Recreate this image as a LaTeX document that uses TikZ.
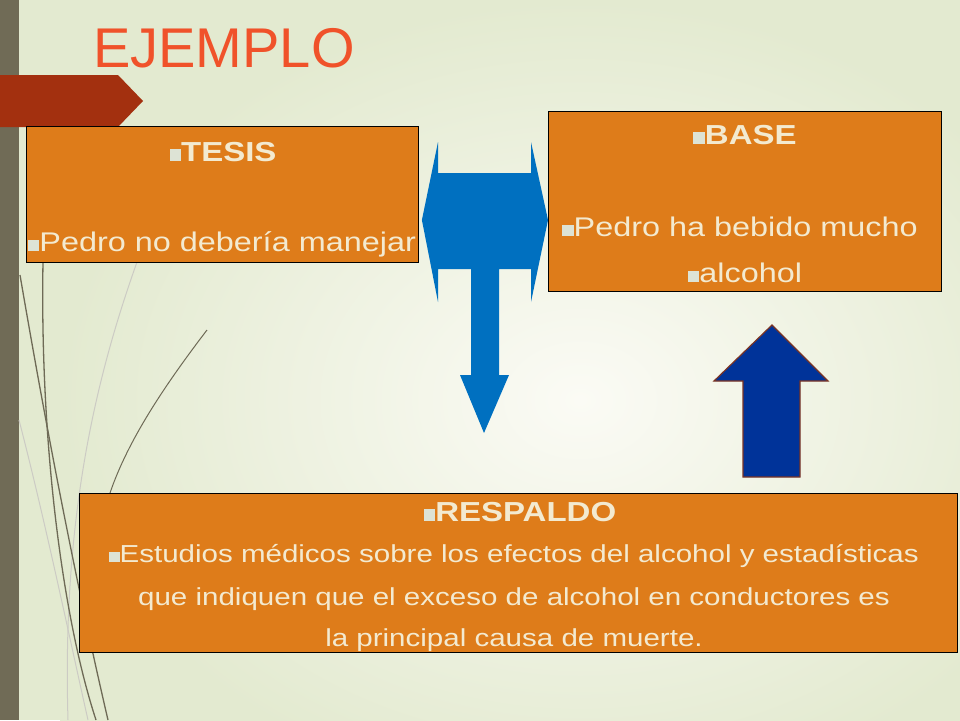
\documentclass[tikz,border=0pt]{standalone}
\usepackage{fontspec}
\setmainfont{Liberation Sans}
\newfontfamily\slidefont[FakeStretch=1.2]{Liberation Sans}
\usetikzlibrary{shapes,arrows,calc}

\definecolor{bgout}{HTML}{E3EAD0}
\definecolor{bgin}{HTML}{FBFBF5}
\definecolor{barcol}{HTML}{706B56}
\definecolor{tabred}{HTML}{A3300F}
\definecolor{titlecol}{HTML}{F0522A}
\definecolor{boxorange}{HTML}{DE7C1A}
\definecolor{cream}{HTML}{F3EAD0}
\definecolor{bulletcol}{HTML}{DDE3D5}
\definecolor{arrowblue}{HTML}{0070C0}
\definecolor{darkblue}{HTML}{003399}
\definecolor{arrowrim}{HTML}{7B3424}
\definecolor{swooshcol}{HTML}{6E6A56}

\newcommand{\sq}{\textcolor{bulletcol}{\rule{0.42em}{0.42em}}}

\begin{document}
\begin{tikzpicture}[x=1pt,y=-1pt,
    box/.style={draw=black,line width=0.9pt,fill=boxorange,anchor=north west,inner sep=0pt},
    head/.style={anchor=base,text=cream,inner sep=0pt,font=\slidefont\fontsize{27.5}{30}\selectfont\bfseries},
    body/.style={anchor=base,text=cream,inner sep=0pt,font=\slidefont\fontsize{27}{30}\selectfont},
    small/.style={anchor=base,text=cream,inner sep=0pt,font=\slidefont\fontsize{24.6}{28}\selectfont},
    swoosh/.style={draw=swooshcol,line width=1.3pt},
    faint/.style={draw=swooshcol!35,line width=1pt}]
      \useasboundingbox (0,0) rectangle (960,720);
      % slide background
      \fill[bgout] (0,0) rectangle (960,720);
      \shade[inner color=bgin,outer color=bgout] (60,0) rectangle (1100,800);
      \fill[barcol] (0,0) rectangle (19,720);
      \draw[faint] (137,262) .. controls (95,380) and (62,520) .. (68,720);
      \draw[faint] (19,420) .. controls (45,520) and (70,640) .. (88,720);
      \draw[swoosh] (20,275) .. controls (50,450) and (80,600) .. (108,720);
      \draw[swoosh] (43,262) .. controls (40,430) and (60,610) .. (96,720);
      \draw[swoosh,line width=1pt] (207,330) .. controls (165,385) and (128,440) .. (110,493);
      \fill[tabred] (0,75) -- (118,75) -- (143,101) -- (118,127) -- (0,127) -- cycle;
      \node[anchor=base west,inner sep=0pt,text=titlecol,font=\fontsize{56}{60}\selectfont] (title) at (93,67) {EJEMPLO};
      % the three boxes
      \node[box,minimum width=392pt,minimum height=136pt] (tesis) at (26,126) {};
      \node[box,minimum width=393pt,minimum height=180pt] (base) at (548,111) {};
      \node[box,minimum width=878pt,minimum height=159pt] (respaldo) at (79,493) {};
      \node[head] (tesish) at (223,161) {\sq TESIS};
      \node[body] (tesist) at (222,251) {\sq Pedro no debería manejar};
      \node[head] (baseh) at (745,144) {\sq BASE};
      \node[body] (baset) at (740,236) {\sq Pedro ha bebido mucho};
      \node[body] (basett) at (745,282) {\sq alcohol};
      \node[head] (respaldoh) at (520,521) {\sq RESPALDO};
      \node[small] (resp1) at (514,562) {\sq Estudios médicos sobre los efectos del alcohol y estadísticas};
      \node[small] (resp2) at (514,605) {que indiquen que el exceso de alcohol en conductores es};
      \node[small] (resp3) at (514,646) {la principal causa de muerte.};
      % block arrows
      \fill[arrowblue] (tesis.east |- 0,220) ++(3,0) -- (438,142) -- (438,173) -- (531,173) -- (531,142)
        -- (548,220) -- (531,302) -- (531,269) -- (499,269) -- (499,375) -- (509,375) -- (484,433)
        -- (460,375) -- (471,375) -- (471,269) -- (438,269) -- (438,302) -- cycle;
      \filldraw[fill=darkblue,draw=arrowrim,line width=1.2pt] (772,325) -- (828,381) -- (800,381)
        -- (800,477) -- (743,477) -- (743,381) -- (714,381) -- cycle;
   \end{tikzpicture}
\end{document}
